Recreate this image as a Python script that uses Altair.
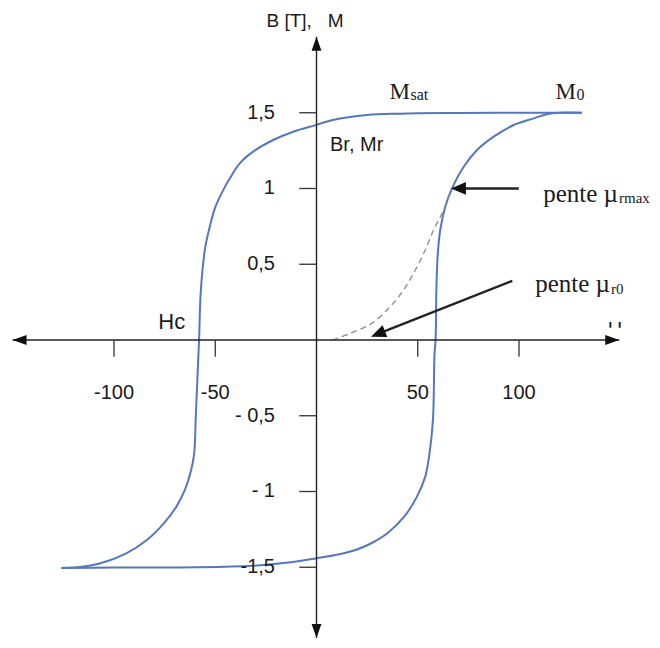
import altair as alt
import pandas as pd

# ---------------- data ----------------
# descending branch of the hysteresis loop (from M0 down to -Bsat)
desc_H = [131, 110, 90, 70, 50, 41, 25, 8, 0, -11.5, -21.4, -31.3, -37.9, -42.8, -46.9,
          -50.2, -52.7, -54.9, -56.3, -57.3, -58, -58.8, -59.6, -60.4, -61.9, -65,
          -69.2, -75.4, -83.8, -94.2, -106.7, -116, -126]
desc_B = [1.5, 1.5, 1.5, 1.499, 1.497, 1.494, 1.485, 1.452, 1.42, 1.375, 1.32, 1.243, 1.166,
          1.067, 0.968, 0.869, 0.748, 0.616, 0.462, 0.286, 0.0, -0.25, -0.5, -0.748, -0.858,
          -0.99, -1.1, -1.21, -1.32, -1.41, -1.474, -1.497, -1.505]
# ascending branch (from -Bsat back up to M0)
asc_H = [-126, -100, -60, -31.7, -15, 0, 10, 20, 28, 35, 43.3, 49.6, 53.7, 55.8, 57.5, 58.3,
         58.8, 59.2, 59.8, 61.1, 63.6, 66.9, 72.7, 79.3, 87.5, 97.4, 107.3, 113.7, 120, 131]
asc_B = [-1.505, -1.502, -1.5, -1.49, -1.47, -1.44, -1.418, -1.383, -1.335, -1.276, -1.166,
         -1.034, -0.902, -0.748, -0.528, -0.088, 0, 0.33, 0.55, 0.726, 0.88, 1.0, 1.144, 1.254,
         1.342, 1.419, 1.463, 1.49, 1.5, 1.5]
# first magnetisation curve (dashed)
first_H = [7.9, 16.6, 27.3, 36.4, 43, 48.8, 53.7, 57.8, 62, 65.3, 66.9]
first_B = [0, 0.044, 0.11, 0.22, 0.33, 0.462, 0.594, 0.726, 0.836, 0.946, 1.0]

y_tick_vals = [1.5, 1, 0.5, -0.5, -1, -1.5]
y_tick_labels = ["1,5", "1", "0,5", "- 0,5", "- 1", "-1,5"]
x_tick_vals = [-100, -50, 50, 100]
x_tick_labels = ["-100", "-50", "50", "100"]

# ---------------- layout (data units) ----------------
X_DOM = [-152.35, 165.68]
Y_DOM = [-1.9802, 2.1914]
AX_H = [-150.1, 149.5]      # horizontal axis extent
AX_B = [-1.967, 2.002]      # vertical axis extent
YTICK_H = -8.5
XTICK_B = -0.11
YLAB_H = -20.5
XLAB_B = -0.352

BLUE = "#5577bb"
INK = "#1a1a1a"
SANS = "Liberation Sans"
SERIF = "Liberation Serif"

xs = alt.Scale(domain=X_DOM, nice=False, zero=False)
ys = alt.Scale(domain=Y_DOM, nice=False, zero=False)


def X(f):
    return alt.X(f, type="quantitative", scale=xs, axis=None)


def Y(f):
    return alt.Y(f, type="quantitative", scale=ys, axis=None)


# loop (two smooth branches)
loop_df = pd.DataFrame({
    "H": desc_H + asc_H,
    "B": desc_B + asc_B,
    "i": list(range(len(desc_H))) + list(range(len(asc_H))),
    "branch": ["desc"] * len(desc_H) + ["asc"] * len(asc_H),
})
loop = alt.Chart(loop_df).mark_line(color=BLUE, strokeWidth=2, interpolate="catmull-rom").encode(
    x=X("H"), y=Y("B"), order="i:Q", detail="branch:N")

first_df = pd.DataFrame({"H": first_H, "B": first_B, "i": list(range(len(first_H)))})
first = alt.Chart(first_df).mark_line(color="#8a8a8a", strokeWidth=1.3, strokeDash=[6, 4],
                                      interpolate="catmull-rom").encode(
    x=X("H"), y=Y("B"), order="i:Q")

# "H" axis label: only its top is visible in the reference
h_lab = alt.Chart(pd.DataFrame({"H": [147.4], "B": [0.0264], "t": ["H"]})).mark_text(
    align="center", baseline="alphabetic", font=SANS, fontSize=20, color=INK).encode(
    x=X("H"), y=Y("B"), text="t:N")
cover_df = pd.DataFrame({"h1": [140], "h2": [155.8], "b1": [0.0066], "b2": [0.0805]})
cover = alt.Chart(cover_df).mark_rect(color="white").encode(
    x=X("h1"), x2=alt.X2("h2"), y=Y("b1"), y2=alt.Y2("b2"))

# axes lines
axes_df = pd.DataFrame({
    "h1": [AX_H[0], 0], "h2": [AX_H[1], 0],
    "b1": [0, AX_B[0]], "b2": [0, AX_B[1]],
})
axes = alt.Chart(axes_df).mark_rule(color="#222222", strokeWidth=1.4).encode(
    x=X("h1"), x2=alt.X2("h2"), y=Y("b1"), y2=alt.Y2("b2"))

ytick_df = pd.DataFrame({"h1": [YTICK_H] * len(y_tick_vals), "h2": [0] * len(y_tick_vals),
                         "b": y_tick_vals})
yticks = alt.Chart(ytick_df).mark_rule(color="#333333", strokeWidth=1.3).encode(
    x=X("h1"), x2=alt.X2("h2"), y=Y("b"))
xtick_df = pd.DataFrame({"h": x_tick_vals, "b1": [0] * len(x_tick_vals),
                         "b2": [XTICK_B] * len(x_tick_vals)})
xticks = alt.Chart(xtick_df).mark_rule(color="#333333", strokeWidth=1.3).encode(
    x=X("h"), y=Y("b1"), y2=alt.Y2("b2"))

ylab = alt.Chart(pd.DataFrame({"H": [YLAB_H] * len(y_tick_vals), "B": y_tick_vals,
                               "t": y_tick_labels})).mark_text(
    align="right", baseline="middle", font=SANS, fontSize=20, color=INK).encode(
    x=X("H"), y=Y("B"), text="t:N")
xlab = alt.Chart(pd.DataFrame({"H": x_tick_vals, "B": [XLAB_B] * len(x_tick_vals),
                               "t": x_tick_labels})).mark_text(
    align="center", baseline="middle", font=SANS, fontSize=20, color=INK).encode(
    x=X("H"), y=Y("B"), text="t:N")

# arrowheads (tip at datum, angle clockwise from "up")
AXIS_HEAD = "M0,0L0.7,2L-0.7,2Z"
NOTE_HEAD = "M0,0L0.85,2L-0.85,2Z"
axis_heads_df = pd.DataFrame({
    "H": [AX_H[1], AX_H[0], 0, 0],
    "B": [0, 0, AX_B[1], AX_B[0]],
    "ang": [90, 270, 0, 180],
})
axis_heads = alt.Chart(axis_heads_df).mark_point(
    shape=AXIS_HEAD, filled=True, color="#111111", opacity=1, size=196, strokeWidth=0).encode(
    x=X("H"), y=Y("B"), angle=alt.Angle("ang:Q", scale=None))

# annotation arrows ("pente mu_rmax" and "pente mu_r0")
arrow_df = pd.DataFrame({
    "h1": [99.9, 96.7], "b1": [1.0, 0.391],
    "h2": [69.9, 30.0], "b2": [1.0, 0.039],
})
arrows = alt.Chart(arrow_df).mark_rule(color="#222222", strokeWidth=2.4).encode(
    x=X("h1"), x2=alt.X2("h2"), y=Y("b1"), y2=alt.Y2("b2"))
note_heads_df = pd.DataFrame({"H": [66.4, 26.9], "B": [1.0, 0.0218], "ang": [270, 248.4]})
note_heads = alt.Chart(note_heads_df).mark_point(
    shape=NOTE_HEAD, filled=True, color="#111111", opacity=1, size=225, strokeWidth=0).encode(
    x=X("H"), y=Y("B"), angle=alt.Angle("ang:Q", scale=None))


def text_layer(hs, bs, texts, font, size, align="left", baseline="alphabetic"):
    df = pd.DataFrame({"H": hs, "B": bs, "t": texts})
    return alt.Chart(df).mark_text(align=align, baseline=baseline, font=font,
                                   fontSize=size, color=INK).encode(
        x=X("H"), y=Y("B"), text="t:N")


title = text_layer([-5.7], [2.106], ["B [T],\u00a0\u00a0\u00a0M"], SANS, 19,
                   align="center", baseline="middle")
br = text_layer([6.67], [1.2495], ["Br, Mr"], SANS, 20)
hc = text_layer([-78.1], [0.0706], ["Hc"], SANS, 22)
serif_m = text_layer([46.17, 128.15], [1.591, 1.591], ["M", "M"], SERIF, 23, align="right")
serif_pente = text_layer([148.9, 144.94], [0.913, 0.319], ["pente \u00b5", "pente \u00b5"],
                         SERIF, 25, align="right")
serif_sub = text_layer([46.42, 128.4], [1.581, 1.584], ["sat", "0"], SERIF, 16)
serif_sub2 = text_layer([149.4, 145.43], [0.901, 0.304], ["rmax", "r0"], SERIF, 15)

chart = alt.layer(
    h_lab, cover, loop, first, axes, yticks, xticks, axis_heads, arrows, note_heads,
    ylab, xlab, title, br, hc, serif_m, serif_pente, serif_sub, serif_sub2,
).properties(
    width=644, height=632, padding=0,
    autosize=alt.AutoSizeParams(type="none"),
    background="white",
).configure_view(stroke=None)

chart.save("out.html", embed_options={"renderer": "svg", "actions": False})
